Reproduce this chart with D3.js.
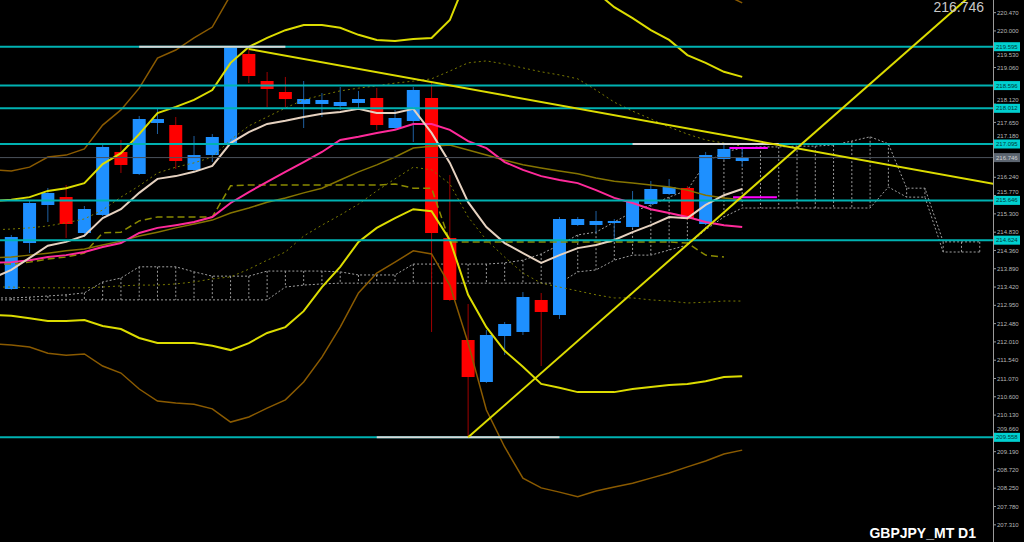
<!DOCTYPE html>
<html>
<head>
<meta charset="utf-8">
<script src="https://cdn.jsdelivr.net/npm/d3@7"></script>
<style>
  html, body { margin: 0; background: #000; overflow: hidden; }
  svg { display: block; font-family: "Liberation Sans", Arial, sans-serif; }
</style>
</head>
<body>
<svg id="chart" width="1024" height="542"></svg>
<script>
// daily candles GBPJPY, oldest first
const open  = [213.369,214.551,215.528,215.733,214.808,215.271,216.890,216.324,217.635,217.583,216.427,216.812,217.121,219.408,218.714,218.431,218.123,218.123,218.071,218.149,218.277,217.506,217.686,218.277,214.680,212.059,210.980,212.162,212.265,213.087,212.701,215.014,215.014,215.065,214.963,215.553,215.810,215.965,215.040,216.710,216.658];
const high  = [214.757,215.656,215.965,216.042,215.502,217.121,217.198,217.815,218.020,217.789,217.301,217.352,219.595,219.536,218.945,218.817,218.714,218.405,218.560,218.457,218.534,217.969,218.560,218.662,216.299,212.984,212.316,212.522,213.292,213.267,215.219,215.219,215.374,215.168,215.887,216.144,216.196,216.016,216.890,217.069,216.992];
const low   = [213.344,214.294,215.091,214.680,214.706,215.245,216.350,216.299,217.352,216.453,216.401,216.633,217.069,218.662,218.046,218.046,217.506,217.789,217.969,218.020,217.455,217.481,217.147,212.265,213.061,209.558,210.954,211.674,212.188,211.391,212.599,214.988,214.808,214.628,214.937,215.528,215.785,215.142,215.014,216.684,216.504];
const close = [214.706,215.579,215.836,215.040,215.425,217.018,216.556,217.737,217.737,216.658,216.812,217.275,219.580,218.842,218.508,218.251,218.251,218.226,218.174,218.251,217.583,217.763,218.483,214.808,213.087,211.108,212.188,212.470,213.164,212.779,215.168,215.168,215.117,215.117,215.631,215.939,215.990,215.168,216.812,216.967,216.746];

// indicator values, first value belongs to bar -1
const bbUp    = [215.63,215.66,215.73,215.89,215.96,216.09,216.58,216.86,217.35,217.89,218.05,218.23,218.48,219.18,219.59,219.82,220.02,220.15,220.15,220.08,219.90,219.77,219.74,219.79,219.82,220.28,221.44,222.34,222.85,222.98,222.72,222.21,221.57,221.00,220.61,220.33,220.02,219.77,219.38,219.18,218.95,218.82];
const bbDn    = [212.70,212.68,212.62,212.55,212.55,212.57,212.42,212.34,212.11,211.98,211.98,211.98,211.91,211.80,211.98,212.24,212.39,212.80,213.42,213.94,214.58,214.94,215.19,215.42,215.37,214.63,213.22,212.39,211.78,211.37,210.93,210.83,210.72,210.72,210.72,210.80,210.85,210.90,210.93,211.00,211.11,211.13];
const outerUp = [216.43,216.40,216.50,216.76,216.81,216.97,217.58,217.97,218.53,219.30,219.51,219.82,220.10,220.92,221.82,222.34,222.72,222.98,223.06,222.98,222.85,222.72,222.65,222.65,222.65,223.36,224.65,225.93,226.71,226.96,226.71,225.93,225.16,224.39,223.62,222.98,222.47,221.95,221.57,221.26,220.95,220.72];
const outerDn = [211.96,211.93,211.88,211.72,211.67,211.70,211.39,211.21,210.80,210.49,210.44,210.41,210.29,209.95,210.08,210.31,210.52,210.98,211.62,212.39,213.27,213.78,214.06,214.35,214.27,213.47,211.98,210.26,209.31,208.51,208.26,208.15,208.03,208.18,208.28,208.38,208.51,208.64,208.80,208.95,209.13,209.23];
const maFast  = [213.65,213.86,214.17,214.48,214.58,214.74,215.19,215.42,215.84,216.20,216.27,216.38,216.53,217.12,217.40,217.61,217.69,217.79,217.87,217.92,218.00,217.89,217.89,218.00,217.38,216.61,215.60,214.96,214.55,214.29,214.04,214.24,214.42,214.50,214.63,214.83,215.01,215.22,215.19,215.53,215.78,215.94];
const maMid   = [214.04,214.06,214.11,214.19,214.24,214.32,214.45,214.55,214.81,214.94,215.01,215.09,215.22,215.58,215.86,216.12,216.38,216.63,216.89,217.20,217.28,217.38,217.46,217.61,217.61,217.46,217.17,216.99,216.63,216.43,216.27,216.17,216.09,215.91,215.71,215.58,215.42,215.32,215.22,215.09,215.01,214.96];
const maSlow  = [214.17,214.19,214.24,214.29,214.35,214.40,214.50,214.60,214.73,214.83,214.94,215.04,215.14,215.32,215.45,215.60,215.71,215.84,215.96,216.17,216.38,216.56,216.76,216.99,217.04,217.07,216.94,216.81,216.68,216.56,216.48,216.40,216.33,216.22,216.14,216.09,216.04,215.99,215.91,215.78,215.71,215.66];
const kijun   = [214.01,214.01,214.06,214.14,214.19,214.29,214.81,214.83,215.12,215.22,215.22,215.22,215.22,216.02,216.04,216.04,216.04,216.04,216.04,216.04,216.04,216.04,216.07,215.96,215.96,214.58,214.58,214.58,214.58,214.58,214.58,214.58,214.58,214.58,214.58,214.58,214.58,214.58,214.55,214.24,214.19];
const envUp   = [214.89,214.91,214.94,214.99,215.07,215.17,215.40,215.73,216.02,216.35,216.50,216.61,216.76,217.20,217.56,217.79,218.02,218.23,218.35,218.46,218.53,218.59,218.66,218.71,218.77,218.97,219.18,219.23,219.15,219.05,218.95,218.87,218.77,218.48,218.17,217.94,217.74,217.53,217.35,217.20,217.12,217.04];
const envDn   = [213.42,213.42,213.40,213.40,213.40,213.40,213.42,213.45,213.47,213.47,213.50,213.55,213.63,213.68,213.88,214.11,214.32,214.73,215.01,215.27,215.55,215.89,216.20,216.50,216.43,216.07,215.22,214.63,214.19,213.78,213.52,213.42,213.32,213.22,213.14,213.14,213.09,213.06,213.01,213.03,213.06,213.06];
// ichimoku cloud, shifted 26 bars forward (bar -1 .. 53)
const spanA = [213.14,213.14,213.16,213.19,213.22,213.27,213.55,213.65,213.94,213.94,213.94,213.81,213.70,213.70,213.70,213.83,213.83,213.83,213.83,213.81,213.73,213.73,213.73,214.01,214.01,214.01,214.01,214.01,214.04,214.11,214.27,214.50,214.76,214.83,215.09,215.35,215.53,215.73,215.91,216.61,216.89,216.99,217.02,217.02,217.04,217.04,217.07,217.17,217.28,217.10,215.96,215.96,214.58,214.58,214.58];
const spanB = [213.09,213.09,213.09,213.09,213.09,213.09,213.09,213.09,213.09,213.09,213.09,213.09,213.09,213.09,213.09,213.09,213.42,213.47,213.50,213.52,213.52,213.52,213.52,213.52,213.52,213.52,213.52,213.52,213.52,213.52,213.52,213.52,213.81,213.86,214.11,214.24,214.24,214.37,214.50,214.89,215.22,215.45,215.45,215.45,215.45,215.45,215.45,215.45,215.45,215.99,215.73,215.73,214.32,214.32,214.32];

const levels = [219.595, 218.596, 218.012, 217.095, 215.646, 214.624, 209.558];
const lastPrice = 216.746;
const tickValues = [220.470,220.000,219.530,219.060,218.590,218.120,217.650,217.180,216.710,216.240,215.770,215.300,214.830,214.360,213.890,213.420,212.950,212.480,212.010,211.540,211.070,210.600,210.130,209.660,209.190,208.720,208.250,207.780,207.310];
// [from bar, to bar, price]
const whiteSegs = [[7, 15, 219.595], [20, 30, 209.558], [34, 42, 217.095]];
const magentaSegs = [[39.3, 41.4, 216.99], [39.5, 41.9, 215.73]];
// trend lines, two anchors [bar, price]
const trendDown = [[13, 219.536], [40, 217.239]];
const trendUp = [[25, 209.558], [40, 215.75]];

const width = 1024, height = 542, plotRight = 993;
const svg = d3.select('#chart');
svg.append('rect').attr('width', width).attr('height', height).attr('fill', '#000');

const x = d3.scaleLinear().domain([0, 40]).range([11.3, 742.2]);
const y = d3.scaleLinear().domain([206.869, 220.795]).range([height, 0]);

svg.append('clipPath').attr('id', 'plot')
  .append('rect').attr('width', plotRight).attr('height', height);
const g = svg.append('g').attr('clip-path', 'url(#plot)');

const line = d3.line().x(d => x(d[0])).y(d => y(d[1]));
const series = arr => arr.map((v, k) => [k - 1, v]);

function drawLine(arr, color, w, dash) {
  g.append('path')
    .attr('d', line(series(arr)))
    .attr('fill', 'none')
    .attr('stroke', color)
    .attr('stroke-width', w)
    .attr('stroke-dasharray', dash || null);
}

// cloud
spanA.forEach((a, k) => {
  g.append('line')
    .attr('x1', x(k - 1)).attr('x2', x(k - 1))
    .attr('y1', y(a)).attr('y2', y(spanB[k]))
    .attr('stroke', '#9a9a9a').attr('stroke-width', 1).attr('stroke-dasharray', '2,2');
});
drawLine(spanA, '#a0a0a0', 1, '2,2');
drawLine(spanB, '#a0a0a0', 1, '2,2');

// candles
const bodyW = 13;
open.forEach((o, i) => {
  const c = close[i];
  const up = c >= o;
  g.append('line')
    .attr('x1', x(i)).attr('x2', x(i))
    .attr('y1', y(high[i])).attr('y2', y(low[i]))
    .attr('stroke', up ? '#1f5fa0' : '#a00000').attr('stroke-width', 1);
  const top = y(Math.max(o, c)), bot = y(Math.min(o, c));
  g.append('rect')
    .attr('x', x(i) - bodyW / 2).attr('y', top)
    .attr('width', bodyW).attr('height', Math.max(1.5, bot - top))
    .attr('fill', up ? '#1e90ff' : '#ff0000');
});

// bands, envelopes and averages
drawLine(outerUp, '#8a5a00', 1.5);
drawLine(outerDn, '#8a5a00', 1.5);
drawLine(envUp, '#7a7a00', 1, '2,3');
drawLine(envDn, '#7a7a00', 1, '2,3');
drawLine(kijun, '#8b8b00', 1.5, '7,4');
drawLine(maSlow, '#857400', 1.5);
drawLine(bbUp, '#dcdc00', 2);
drawLine(bbDn, '#dcdc00', 2);
drawLine(maMid, '#ff2a9a', 2);
drawLine(maFast, '#e6d2c0', 2);

// horizontal levels
levels.forEach(p => {
  g.append('line').attr('x1', 0).attr('x2', plotRight)
    .attr('y1', y(p)).attr('y2', y(p))
    .attr('stroke', '#00b2b2').attr('stroke-width', 2);
});
g.append('line').attr('x1', 0).attr('x2', plotRight)
  .attr('y1', y(lastPrice)).attr('y2', y(lastPrice))
  .attr('stroke', '#4a525c').attr('stroke-width', 1);

whiteSegs.forEach(s => {
  g.append('line').attr('x1', x(s[0])).attr('x2', x(s[1]))
    .attr('y1', y(s[2])).attr('y2', y(s[2]))
    .attr('stroke', '#d8d8d8').attr('stroke-width', 2);
});
magentaSegs.forEach(s => {
  g.append('line').attr('x1', x(s[0])).attr('x2', x(s[1]))
    .attr('y1', y(s[2])).attr('y2', y(s[2]))
    .attr('stroke', '#ff00ff').attr('stroke-width', 2);
});

// trend lines, extended to the right
function ray(t) {
  const slope = (t[1][1] - t[0][1]) / (t[1][0] - t[0][0]);
  const end = 70;
  g.append('line')
    .attr('x1', x(t[0][0])).attr('y1', y(t[0][1]))
    .attr('x2', x(end)).attr('y2', y(t[0][1] + slope * (end - t[0][0])))
    .attr('stroke', '#dcdc00').attr('stroke-width', 2);
}
ray(trendDown);
ray(trendUp);

// price axis
svg.append('line').attr('x1', plotRight + 0.5).attr('x2', plotRight + 0.5)
  .attr('y1', 0).attr('y2', height).attr('stroke', '#9a9a9a').attr('stroke-width', 1);

const tags = levels.concat([lastPrice]);
tickValues.forEach(v => {
  svg.append('line').attr('x1', plotRight).attr('x2', plotRight + 3)
    .attr('y1', y(v)).attr('y2', y(v)).attr('stroke', '#9a9a9a');
  // labels sitting under a price tag are hidden, near ones peek out above/below it
  let ly = y(v);
  const near = tags.map(p => y(p)).reduce((a, b) => Math.abs(b - ly) < Math.abs(a - ly) ? b : a);
  const gap = ly - near;
  if (Math.abs(gap) < 2.5) return;
  if (Math.abs(gap) < 8) ly = near + Math.sign(gap) * 8;
  svg.append('text').attr('x', plotRight + 4).attr('y', ly).attr('dy', '0.35em')
    .attr('font-size', 6).attr('fill', '#b8b8b8').text(v.toFixed(3));
});

function priceTag(p, bg, fg) {
  svg.append('rect').attr('x', plotRight + 1).attr('y', y(p) - 4.5)
    .attr('width', 26).attr('height', 9).attr('fill', bg);
  svg.append('text').attr('x', plotRight + 3).attr('y', y(p)).attr('dy', '0.35em')
    .attr('font-size', 6).attr('fill', fg).text(p.toFixed(3));
}
levels.forEach(p => priceTag(p, '#00d0d0', '#003a3a'));
priceTag(lastPrice, '#5c6570', '#d0d0d0');

// corner texts
svg.append('text').attr('x', 984).attr('y', 12).attr('text-anchor', 'end')
  .attr('font-size', 14).attr('fill', '#c8c8c8').text(lastPrice.toFixed(3));
svg.append('text').attr('x', 976).attr('y', 538).attr('text-anchor', 'end')
  .attr('font-size', 14).attr('font-weight', 'bold').attr('fill', '#ffffff')
  .text('GBPJPY_MT D1');
</script>
</body>
</html>
